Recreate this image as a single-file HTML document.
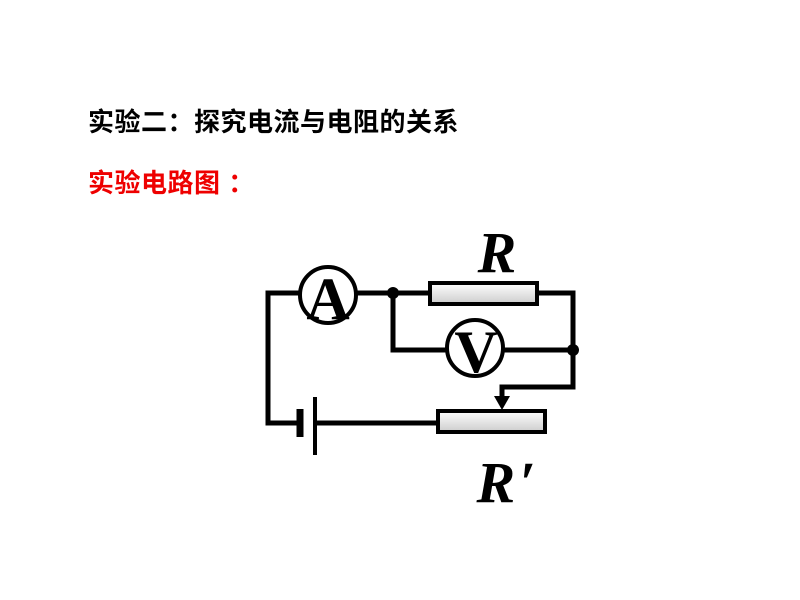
<!DOCTYPE html>
<html><head><meta charset="utf-8"><style>
body{margin:0;width:800px;height:600px;background:#fff;position:relative;overflow:hidden}
.t{position:absolute;left:88px;font-family:"Liberation Sans","Noto Sans CJK SC",sans-serif;font-weight:bold;font-size:26px;letter-spacing:0.5px;white-space:nowrap;line-height:30px}
</style></head><body>
<div class="t" style="top:107px;color:#000">实验二：探究电流与电阻的关系</div>
<div class="t" style="top:168px;color:#e00">实验电路图&nbsp;：</div>
<svg width="800" height="600" style="position:absolute;left:0;top:0">
<defs><linearGradient id="g" x1="0" y1="0" x2="0" y2="1"><stop offset="0" stop-color="#fff"/><stop offset="1" stop-color="#ccc"/></linearGradient></defs>
<g stroke="#000" stroke-width="5" fill="none">
<polyline points="300,423 268,423 268,293 300,293"/>
<line x1="356" y1="293" x2="430" y2="293"/>
<polyline points="537,293 573,293 573,387 502,387 502,400"/>
<polyline points="393,293 393,350 447,350"/>
<line x1="503" y1="350" x2="573" y2="350"/>
<line x1="314" y1="423" x2="438" y2="423"/>
</g>
<line x1="300" y1="409" x2="300" y2="437" stroke="#000" stroke-width="7"/>
<line x1="315" y1="397" x2="315" y2="455" stroke="#000" stroke-width="4"/>
<polygon points="494,396 510,396 502,410" fill="#000"/>
<rect x="430" y="283" width="107" height="21" fill="url(#g)" stroke="#000" stroke-width="4"/>
<rect x="438" y="411" width="107" height="21" fill="url(#g)" stroke="#000" stroke-width="4"/>
<circle cx="393" cy="293" r="6" fill="#000"/>
<circle cx="573" cy="350" r="6" fill="#000"/>
<circle cx="328" cy="295" r="28" fill="#fff" stroke="#000" stroke-width="4"/>
<circle cx="475" cy="348" r="28" fill="#fff" stroke="#000" stroke-width="4"/>
<g font-family="Liberation Serif,serif" font-weight="bold" text-anchor="middle">
<text x="328" y="319" font-size="60">A</text>
<text x="476" y="372" font-size="60">V</text>
<text x="497" y="272" font-size="58" font-style="italic">R</text>
<text x="506" y="502" font-size="58" font-style="italic">R<tspan dx="4">′</tspan></text>
</g>
</svg>
</body></html>
